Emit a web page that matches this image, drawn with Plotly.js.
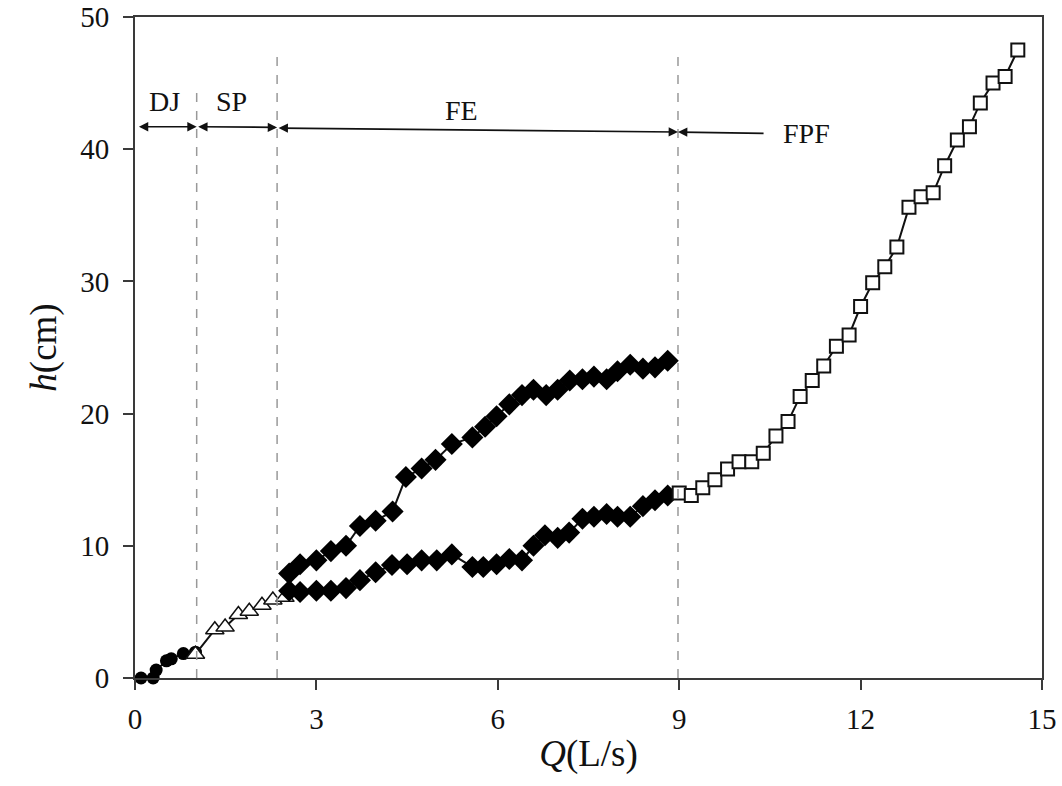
<!DOCTYPE html>
<html>
<head>
<meta charset="utf-8">
<script src="https://cdn.plot.ly/plotly-3.0.1.min.js"></script>
<style>html,body{margin:0;padding:0;background:#fff;}#chart{width:1062px;height:786px;}</style>
</head>
<body>
<div id="chart"></div>
<script>
// ---- data ----
var djQ = [0.10, 0.30, 0.35, 0.52, 0.60, 0.80, 1.00];
var djH = [0.0, 0.0, 0.6, 1.3, 1.45, 1.85, 1.95];

var spQ = [1.00, 1.32, 1.49, 1.71, 1.89, 2.10, 2.28, 2.48];
var spH = [1.8, 3.65, 3.85, 4.8, 5.05, 5.5, 5.9, 6.1];

var feUpQ = [2.55, 2.73, 3.00, 3.24, 3.49, 3.72, 3.98, 4.26, 4.48, 4.74, 4.97, 5.24, 5.58, 5.79, 5.98, 6.19, 6.40, 6.59, 6.80, 6.99, 7.19, 7.40, 7.59, 7.80, 7.98, 8.19, 8.40, 8.60, 8.81];
var feUpH = [7.9, 8.6, 8.9, 9.6, 10.0, 11.5, 11.9, 12.6, 15.2, 15.85, 16.5, 17.7, 18.2, 19.0, 19.8, 20.7, 21.4, 21.8, 21.4, 21.8, 22.5, 22.6, 22.8, 22.6, 23.2, 23.7, 23.4, 23.5, 24.0];

var feLowQ = [2.55, 2.73, 3.00, 3.24, 3.49, 3.72, 3.98, 4.25, 4.50, 4.74, 4.99, 5.24, 5.58, 5.76, 5.98, 6.19, 6.40, 6.59, 6.78, 6.99, 7.18, 7.40, 7.59, 7.80, 7.98, 8.19, 8.40, 8.60, 8.81];
var feLowH = [6.6, 6.5, 6.6, 6.6, 6.8, 7.4, 8.0, 8.55, 8.6, 8.9, 8.9, 9.35, 8.4, 8.4, 8.6, 9.0, 8.9, 10.0, 10.8, 10.6, 11.0, 12.05, 12.2, 12.4, 12.2, 12.2, 13.0, 13.45, 13.8];

var fpfQ = [9.00, 9.20, 9.39, 9.59, 9.80, 9.99, 10.20, 10.39, 10.60, 10.80, 11.00, 11.20, 11.39, 11.60, 11.81, 12.00, 12.20, 12.40, 12.60, 12.80, 13.00, 13.20, 13.39, 13.60, 13.80, 13.98, 14.19, 14.39, 14.60];
var fpfH = [14.0, 13.8, 14.4, 15.0, 15.8, 16.35, 16.35, 17.0, 18.3, 19.4, 21.3, 22.5, 23.6, 25.1, 25.95, 28.1, 29.9, 31.1, 32.6, 35.6, 36.4, 36.7, 38.75, 40.7, 41.7, 43.5, 45.0, 45.5, 47.5];

var regimeBounds = [1.02, 2.35, 8.98];        // dashed boundaries (Q, L/s)
var regimeLabels = ['DJ', 'SP', 'FE', 'FPF'];
var xTicks = [0, 3, 6, 9, 12, 15];
var yTicks = [0, 10, 20, 30, 40, 50];

// ---- styling ----
var serif = "'Liberation Serif', 'Times New Roman', serif";
var lineStyle = {color: '#111', width: 2};

var traces = [
  {x: [spQ[spQ.length-1], feLowQ[0]], y: [spH[spH.length-1], feLowH[0]], mode: 'lines', line: lineStyle, hoverinfo: 'skip', cliponaxis: false},
  {x: [feLowQ[feLowQ.length-1], fpfQ[0]], y: [feLowH[feLowH.length-1], fpfH[0]], mode: 'lines', line: lineStyle, hoverinfo: 'skip', cliponaxis: false},
  {x: [djQ[djQ.length-1], spQ[0]], y: [djH[djH.length-1], spH[0]], mode: 'lines', line: lineStyle, hoverinfo: 'skip', cliponaxis: false},
  {name: 'DJ', x: djQ, y: djH, mode: 'lines+markers', line: lineStyle, cliponaxis: false,
   marker: {symbol: 'circle', size: 13, color: '#000'}},
  {name: 'SP', x: spQ, y: spH, mode: 'lines+markers', line: lineStyle, cliponaxis: false,
   marker: {symbol: 'triangle-up', size: 16, color: '#fff', line: {color: '#111', width: 1.5}}},
  {name: 'FE upper', x: feUpQ, y: feUpH, mode: 'lines+markers', line: lineStyle, cliponaxis: false,
   marker: {symbol: 'diamond', size: 17, color: '#000'}},
  {name: 'FE lower', x: feLowQ, y: feLowH, mode: 'lines+markers', line: lineStyle, cliponaxis: false,
   marker: {symbol: 'diamond', size: 17, color: '#000'}},
  {name: 'FPF', x: fpfQ, y: fpfH, mode: 'lines+markers', line: lineStyle, cliponaxis: false,
   marker: {symbol: 'square', size: 13, color: '#fff', line: {color: '#111', width: 2}}}
];

var dashTops = [44.5, 47.2, 47.6];
var shapes = regimeBounds.map(function (q, i) {
  return {type: 'line', xref: 'x', yref: 'y', x0: q, x1: q, y0: 0, y1: dashTops[i],
          line: {color: '#999', width: 1.5, dash: 'dash'}};
});

function arrow(x0, y0, x1, y1, both) {
  return {xref: 'x', yref: 'y', axref: 'x', ayref: 'y', x: x1, y: y1, ax: x0, ay: y0,
          text: '', showarrow: true, arrowhead: 2, startarrowhead: 2, arrowsize: 1.1, startarrowsize: 1.1,
          arrowwidth: 1.7, arrowcolor: '#111', arrowside: both ? 'end+start' : 'end', standoff: 0, startstandoff: 0};
}
function label(x, y, t) {
  return {xref: 'x', yref: 'y', x: x, y: y, text: t, showarrow: false,
          font: {family: serif, size: 28, color: '#111'}};
}

var annotations = [
  arrow(0.04, 41.7, regimeBounds[0], 41.7, true),
  arrow(regimeBounds[0], 41.7, regimeBounds[1], 41.65, true),
  arrow(regimeBounds[1], 41.6, regimeBounds[2], 41.3, true),
  arrow(10.42, 41.2, regimeBounds[2], 41.3, false),
  label(0.48, 43.6, regimeLabels[0]),
  label(1.6, 43.6, regimeLabels[1]),
  label(5.4, 42.9, regimeLabels[2]),
  label(11.1, 41.2, regimeLabels[3])
];

var axisCommon = {
  showline: true, mirror: true, linecolor: '#3a3a3a', linewidth: 2,
  showgrid: false, zeroline: false, ticks: 'outside', ticklen: 10, tickwidth: 2, tickcolor: '#3a3a3a',
  tickfont: {family: serif, size: 29, color: '#111'}
};

var layout = {
  width: 1062, height: 786,
  margin: {l: 135, r: 20, t: 17, b: 108},
  paper_bgcolor: '#fff', plot_bgcolor: '#fff',
  showlegend: false,
  xaxis: Object.assign({}, axisCommon, {
    range: [0, 15], tickvals: xTicks, ticktext: xTicks.map(String), ticklabelstandoff: 4,
    title: {text: '<i>Q</i>(L/s)', font: {family: serif, size: 37, color: '#111'}, standoff: 6}
  }),
  yaxis: Object.assign({}, axisCommon, {
    range: [0, 50], tickvals: yTicks, ticktext: yTicks.map(String), ticklabelstandoff: 8,
    title: {text: '<i>h</i>(cm)', font: {family: serif, size: 37, color: '#111'}, standoff: 12}
  }),
  shapes: shapes,
  annotations: annotations
};

Plotly.newPlot('chart', traces, layout, {displayModeBar: false, staticPlot: true});
</script>
</body>
</html>
